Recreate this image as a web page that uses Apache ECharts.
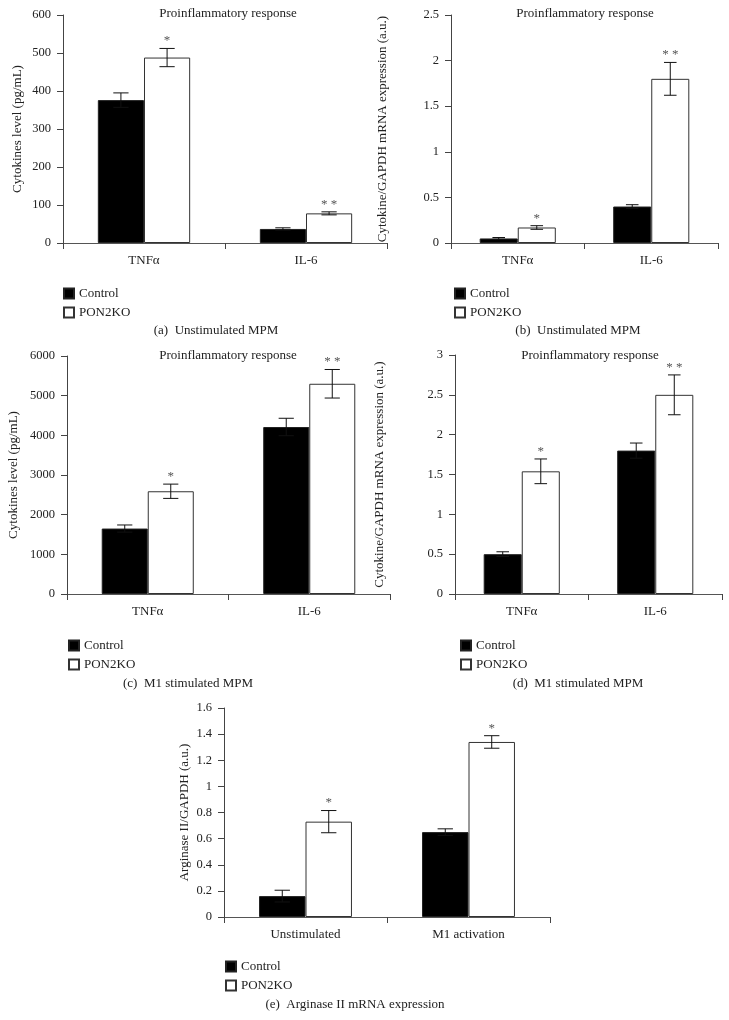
<!DOCTYPE html>
<html>
<head>
<meta charset="utf-8">
<script src="https://cdn.jsdelivr.net/npm/echarts@6/dist/echarts.min.js"></script>
<style>
html,body{margin:0;padding:0;background:#fff;}
#main{width:729px;height:1020px;}
</style>
</head>
<body>
<div id="main"></div>
<script>
// ---- data ----
const cytCategories = ['TNFα', 'IL-6'];
const argCategories = ['Unstimulated', 'M1 activation'];
const seriesNames = ['Control', 'PON2KO'];

// (a) Unstimulated MPM, cytokine level (pg/mL)
const aControl = [376, 37];
const aControlErr = [19, 3];
const aKO = [488, 78];
const aKOErr = [24, 4];
const aStars = ['*', '* *'];

// (b) Unstimulated MPM, mRNA expression
const bControl = [0.05, 0.40];
const bControlErr = [0.01, 0.02];
const bKO = [0.17, 1.80];
const bKOErr = [0.02, 0.18];
const bStars = ['*', '* *'];

// (c) M1 stimulated MPM, cytokine level
const cControl = [1650, 4210];
const cControlErr = [90, 220];
const cKO = [2590, 5300];
const cKOErr = [180, 360];
const cStars = ['*', '* *'];

// (d) M1 stimulated MPM, mRNA expression
const dControl = [0.50, 1.80];
const dControlErr = [0.03, 0.095];
const dKO = [1.54, 2.50];
const dKOErr = [0.155, 0.25];
const dStars = ['*', '* *'];

// (e) Arginase II mRNA expression
const eControl = [0.16, 0.65];
const eControlErr = [0.045, 0.025];
const eKO = [0.73, 1.34];
const eKOErr = [0.085, 0.048];
const eStars = ['*', '*'];

// axis ranges
const aAxis = {min: 0, max: 600, interval: 100};
const bAxis = {min: 0, max: 2.5, interval: 0.5};
const cAxis = {min: 0, max: 6000, interval: 1000};
const dAxis = {min: 0, max: 3, interval: 0.5};
const eAxis = {min: 0, max: 1.6, interval: 0.2};

// ---- layout ----
const FONT = '"Liberation Serif", "DejaVu Serif", serif';
const GAP = 0.43;
const panels = [
  {cats: cytCategories, ctl: aControl, ctlE: aControlErr, ko: aKO, koE: aKOErr, stars: aStars, ax: aAxis,
   grid: {left: 63, top: 15, width: 324, height: 228},
   yname: 'Cytokines level (pg/mL)', ynameX: 18, legend: {left: 63, top: 287},
   title: {x: 228, y: 14}, caption: {text: '(a)  Unstimulated MPM', x: 216, y: 331}},
  {cats: cytCategories, ctl: bControl, ctlE: bControlErr, ko: bKO, koE: bKOErr, stars: bStars, ax: bAxis,
   grid: {left: 451, top: 15, width: 267, height: 228},
   yname: 'Cytokine/GAPDH mRNA expression (a.u.)', ynameX: 383, legend: {left: 454, top: 287},
   title: {x: 585, y: 14}, caption: {text: '(b)  Unstimulated MPM', x: 578, y: 331}},
  {cats: cytCategories, ctl: cControl, ctlE: cControlErr, ko: cKO, koE: cKOErr, stars: cStars, ax: cAxis,
   grid: {left: 67, top: 356, width: 323, height: 238},
   yname: 'Cytokines level (pg/mL)', ynameX: 14, legend: {left: 68, top: 639},
   title: {x: 228, y: 356}, caption: {text: '(c)  M1 stimulated MPM', x: 188, y: 684}},
  {cats: cytCategories, ctl: dControl, ctlE: dControlErr, ko: dKO, koE: dKOErr, stars: dStars, ax: dAxis,
   grid: {left: 455, top: 355, width: 267, height: 239},
   yname: 'Cytokine/GAPDH mRNA expression (a.u.)', ynameX: 380, legend: {left: 460, top: 639},
   title: {x: 590, y: 356}, caption: {text: '(d)  M1 stimulated MPM', x: 578, y: 684}},
  {cats: argCategories, ctl: eControl, ctlE: eControlErr, ko: eKO, koE: eKOErr, stars: eStars, ax: eAxis,
   grid: {left: 224, top: 708, width: 326, height: 209},
   yname: 'Arginase II/GAPDH (a.u.)', ynameX: 185, legend: {left: 225, top: 960},
   title: null, caption: {text: '(e)  Arginase II mRNA expression', x: 355, y: 1005}}
];

const grids = [], xAxes = [], yAxes = [], series = [], legends = [], graphics = [];

panels.forEach((p, i) => {
  grids.push(Object.assign({containLabel: false}, p.grid));
  xAxes.push({
    type: 'category', gridIndex: i, data: p.cats,
    axisLine: {lineStyle: {color: '#555', width: 1}},
    axisTick: {show: true, length: 6, inside: false, lineStyle: {color: '#444'}},
    axisLabel: {fontFamily: FONT, fontSize: 13, color: '#222', margin: 11},
    splitLine: {show: false}
  });
  yAxes.push({
    type: 'value', gridIndex: i, min: p.ax.min, max: p.ax.max, interval: p.ax.interval,
    axisLine: {show: true, lineStyle: {color: '#444', width: 1}},
    axisTick: {show: true, length: 6, lineStyle: {color: '#444'}},
    axisLabel: {fontFamily: FONT, fontSize: 12.5, color: '#222', margin: 12,
      formatter: v => String(+v.toFixed(2))},
    splitLine: {show: false}
  });
  series.push({
    name: 'Control', type: 'bar', xAxisIndex: i, yAxisIndex: i, data: p.ctl,
    barGap: '0%', barCategoryGap: (GAP * 100) + '%',
    itemStyle: {color: '#000', borderColor: '#222', borderWidth: 1},
    animation: false
  });
  series.push({
    name: 'PON2KO', type: 'bar', xAxisIndex: i, yAxisIndex: i, data: p.ko,
    barGap: '0%', barCategoryGap: (GAP * 100) + '%',
    itemStyle: {color: '#fff', borderColor: '#333', borderWidth: 1},
    animation: false
  });
  const errData = [];
  p.cats.forEach((c, k) => {
    errData.push([k, p.ctl[k], p.ctlE[k], -1, -1]);
    errData.push([k, p.ko[k], p.koE[k], 1, k]);
  });
  const stars = p.stars;
  series.push({
    type: 'custom', xAxisIndex: i, yAxisIndex: i, data: errData, silent: true,
    animation: false, z: 5,
    renderItem: (params, api) => {
      const x = api.value(0), v = api.value(1), e = api.value(2), side = api.value(3), si = api.value(4);
      const catW = api.size([1, 0])[0];
      const barW = catW * (1 - GAP) / 2;
      const cx = api.coord([x, v])[0] + side * barW / 2;
      const top = api.coord([x, v + e])[1];
      const bot = api.coord([x, v - e])[1];
      const cap = barW * 0.33;
      const st = {stroke: '#111', lineWidth: 1};
      const children = [
        {type: 'line', shape: {x1: cx, y1: top, x2: cx, y2: bot}, style: st},
        {type: 'line', shape: {x1: cx - cap / 2, y1: top, x2: cx + cap / 2, y2: top}, style: st},
        {type: 'line', shape: {x1: cx - cap / 2, y1: bot, x2: cx + cap / 2, y2: bot}, style: st}
      ];
      if (si >= 0) {
        children.push({type: 'text', style: {text: stars[si], x: cx, y: top - 1,
          align: 'center', verticalAlign: 'bottom', fill: '#555', font: '13px ' + FONT}});
      }
      return {type: 'group', children: children};
    }
  });
  legends.push({
    data: seriesNames, orient: 'vertical', left: p.legend.left, top: p.legend.top,
    padding: 0, itemWidth: 10, itemHeight: 10, itemGap: 6, icon: 'rect',
    textStyle: {fontFamily: FONT, fontSize: 13, color: '#222'}, selectedMode: false
  });
  graphics.push({
    type: 'text', x: p.ynameX, y: p.grid.top + p.grid.height / 2, rotation: Math.PI / 2,
    style: {text: p.yname, align: 'center', verticalAlign: 'middle', fill: '#222', font: '13px ' + FONT}
  });
  if (p.title) {
    graphics.push({type: 'text', x: p.title.x, y: p.title.y,
      style: {text: 'Proinflammatory response', align: 'center', verticalAlign: 'middle', fill: '#222', font: '13px ' + FONT}});
  }
  graphics.push({type: 'text', x: p.caption.x, y: p.caption.y,
    style: {text: p.caption.text, align: 'center', verticalAlign: 'middle', fill: '#222', font: '13px ' + FONT}});
});

const chart = echarts.init(document.getElementById('main'), null, {renderer: 'canvas'});
chart.setOption({
  backgroundColor: '#fff',
  animation: false,
  grid: grids, xAxis: xAxes, yAxis: yAxes, series: series, legend: legends,
  graphic: graphics
});
</script>
</body>
</html>
